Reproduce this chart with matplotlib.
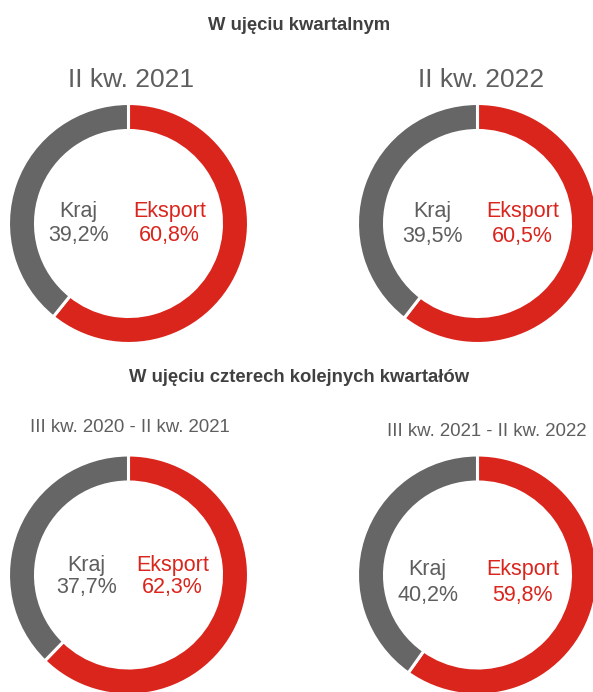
import matplotlib
matplotlib.use("Agg")
import matplotlib.pyplot as plt

plt.rcParams['font.family'] = ['Liberation Sans', 'DejaVu Sans']

section_titles = ["W ujęciu kwartalnym", "W ujęciu czterech kolejnych kwartałów"]
period_labels = ["II kw. 2021", "II kw. 2022", "III kw. 2020 - II kw. 2021", "III kw. 2021 - II kw. 2022"]
categories = ["Eksport", "Kraj"]
eksport = [60.8, 60.5, 62.3, 59.8]
kraj = [39.2, 39.5, 37.7, 40.2]

RED = "#DA251D"
GRAY = "#666666"
TXT = "#5E5E5E"

W, H = 593, 692
fig = plt.figure(figsize=(W / 100, H / 100), dpi=100)

# layout (pixels)
centers = [(128.5, 223.5), (477.5, 223.5), (128.5, 575), (477.5, 575)]
R = 120
label_dx = [(-50, 41), (-45, 45), (-42, 44), (-50, 45)]
label_y = [(212, 235), (212, 237), (565, 588), (569, 595)]
period_pos = [(131, 80, 19), (481, 80, 19), (130, 427, 13.4), (487, 432, 13.4)]


def fx(x):
    return x / W


def fy(y):
    return 1 - y / H


for i, (cx, cy) in enumerate(centers):
    ax = fig.add_axes([fx(cx - R), fy(cy + R), 2 * R / W, 2 * R / H])
    ax.pie([eksport[i], kraj[i]], colors=[RED, GRAY], startangle=90,
           counterclock=False, radius=1.0,
           wedgeprops=dict(width=0.225, edgecolor="white", linewidth=2.2))
    ax.set_xlim(-1, 1)
    ax.set_ylim(-1, 1)
    ax.set_aspect("equal")
    ax.axis("off")

    dk, de = label_dx[i]
    y1, y2 = label_y[i]
    fig.text(fx(cx + dk), fy(y1), categories[1], color=TXT, fontsize=15.5,
             ha="center", va="center")
    fig.text(fx(cx + dk), fy(y2), f"{kraj[i]:.1f}%".replace(".", ","), color=TXT,
             fontsize=15.5, ha="center", va="center")
    fig.text(fx(cx + de), fy(y1), categories[0], color=RED, fontsize=15.5,
             ha="center", va="center")
    fig.text(fx(cx + de), fy(y2), f"{eksport[i]:.1f}%".replace(".", ","), color=RED,
             fontsize=15.5, ha="center", va="center")

    px, py, fs = period_pos[i]
    fig.text(fx(px), fy(py), period_labels[i], color=TXT, fontsize=fs,
             ha="center", va="center")

fig.text(fx(299), fy(25), section_titles[0], color="#404040", fontsize=13.3,
         fontweight="bold", ha="center", va="center")
fig.text(fx(299), fy(378), section_titles[1], color="#404040", fontsize=13.3,
         fontweight="bold", ha="center", va="center")

fig.savefig("out.png", dpi=100, facecolor="white")
